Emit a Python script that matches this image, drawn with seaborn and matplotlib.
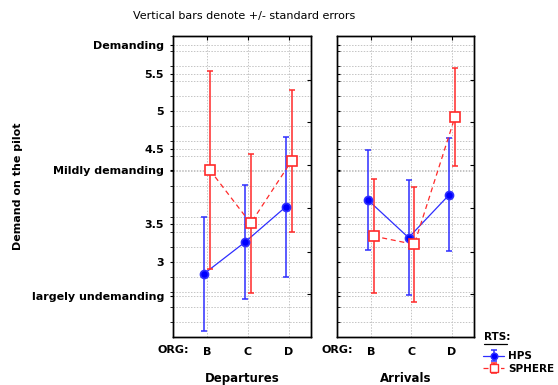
import numpy as np
import pandas as pd
import matplotlib
matplotlib.use("Agg")
import matplotlib.pyplot as plt
from matplotlib.lines import Line2D
import seaborn as sns

# values (means and standard errors)
orgs = ["B", "C", "D"]
panels = ["Departures", "Arrivals"]
rts = ["HPS", "SPHERE"]

dep_hps_mean = [2.84, 3.26, 3.73]
dep_hps_se = [0.76, 0.76, 0.93]
dep_sphere_mean = [4.22, 3.51, 4.34]
dep_sphere_se = [1.32, 0.92, 0.94]
arr_hps_mean = [3.82, 3.32, 3.89]
arr_hps_se = [0.66, 0.76, 0.75]
arr_sphere_mean = [3.34, 3.23, 4.92]
arr_sphere_se = [0.76, 0.76, 0.65]

num_ticks = [3, 3.5, 4.5, 5, 5.5]
word_ticks = [2.55, 4.22, 5.88]
word_labels = ["largely undemanding", "Mildly demanding", "Demanding"]
right_ticks = [2.57, 3.13, 3.71, 4.29, 4.86, 5.42]

rows = []
series = {
    ("Departures", "HPS"): (dep_hps_mean, dep_hps_se),
    ("Departures", "SPHERE"): (dep_sphere_mean, dep_sphere_se),
    ("Arrivals", "HPS"): (arr_hps_mean, arr_hps_se),
    ("Arrivals", "SPHERE"): (arr_sphere_mean, arr_sphere_se),
}
for (panel, r), (m, s) in series.items():
    for i, org in enumerate(orgs):
        rows.append({"panel": panel, "RTS": r, "ORG": org, "pos": i, "mean": m[i], "se": s[i]})
df = pd.DataFrame(rows)

style = {
    "HPS": dict(color="#2e2eff", marker="o", mfc="#0000ff", ms=5.8, ls="-", dx=-0.07),
    "SPHERE": dict(color="#ff2a2a", marker="s", mfc="white", ms=7, ls=(0, (4, 3)), dx=0.07),
}

sns.set_style("white")
plt.rcParams["font.family"] = ["DejaVu Sans"]
plt.rcParams["font.size"] = 8
plt.rcParams["font.weight"] = "bold"
for k in ["text.color", "axes.labelcolor", "xtick.color", "ytick.color"]:
    plt.rcParams[k] = "black"

fig = plt.figure(figsize=(5.58, 3.85), dpi=100)
ax_l = fig.add_axes([0.310, 0.1247, 0.247, 0.782])
ax_r = fig.add_axes([0.604, 0.1247, 0.2455, 0.782])

handles = {}
for ax, panel in zip([ax_l, ax_r], panels):
    sub = df[df["panel"] == panel].copy()
    for r in rts:
        st = style[r]
        d = sub[sub["RTS"] == r].copy()
        d["x"] = d["pos"] + st["dx"]
        sns.lineplot(data=d, x="x", y="mean", ax=ax, color=st["color"],
                     linestyle=st["ls"], linewidth=0.9, legend=False)
        eb = ax.errorbar(d["x"], d["mean"], yerr=d["se"], fmt="none",
                         ecolor=st["color"], elinewidth=1.1, capsize=2.5, capthick=1.1)
        ax.plot(d["x"], d["mean"], linestyle="none", marker=st["marker"],
                markersize=st["ms"], markerfacecolor=st["mfc"],
                markeredgecolor=st["color"], markeredgewidth=1.2, zorder=5)
        handles[r] = eb

    ax.set_xlim(-0.83, 2.54)
    ax.set_ylim(2, 6)
    ax.set_xticks(range(len(orgs)))
    ax.set_xticklabels(orgs)
    ax.set_yticks(num_ticks + word_ticks)
    ax.set_yticks(np.arange(2.2, 5.9, 0.2), minor=True)
    ax.grid(True, which="both", axis="y", linestyle=(0, (1.5, 1.5)), color="#c4c4c4", linewidth=0.7)
    ax.grid(True, which="major", axis="x", linestyle=(0, (1.5, 1.5)), color="#c4c4c4", linewidth=0.7)
    ax.set_axisbelow(True)
    for sp in ax.spines.values():
        sp.set_color("black")
        sp.set_linewidth(1.0)
    ax.tick_params(axis="x", which="major", direction="in", length=3, top=True, pad=7, labelsize=8)
    ax.set_xlabel(panel, fontsize=8.5, fontweight="bold", labelpad=11)
    ax.set_ylabel("")
    ax.text(0, -0.025, "ORG:", transform=ax.transAxes, ha="center", va="top", fontsize=8)

    tw = ax.twinx()
    tw.set_ylim(2, 6)
    tw.set_yticks(right_ticks)
    tw.tick_params(axis="y", direction="in", length=3, right=True, labelright=False)
    tw.grid(False)
    for sp in tw.spines.values():
        sp.set_color("black")
        sp.set_linewidth(1.0)

ax_l.set_yticklabels([str(t) for t in num_ticks] + word_labels)
ax_l.tick_params(axis="y", which="both", direction="out", length=2.5, pad=4, labelsize=8)
ax_r.tick_params(axis="y", which="both", direction="in", length=2.5, labelleft=False)

fig.text(0.032, 0.516, "Demand on the pilot", rotation=90, ha="center", va="center",
         fontsize=8, fontweight="bold")
fig.text(0.437, 0.958, "Vertical bars denote +/- standard errors", ha="center", va="center",
         fontsize=8, fontweight="normal")

# legend
fig.text(0.867, 0.125, "RTS:", ha="left", va="center", fontsize=7.5)
fig.add_artist(Line2D([0.867, 0.909], [0.106, 0.106], color="black", linewidth=0.9))
leg_handles = [(Line2D([], [], color=style[r]["color"], linestyle=style[r]["ls"], linewidth=0.9),
                handles[r],
                Line2D([], [], linestyle="none", marker=style[r]["marker"], markersize=style[r]["ms"] - 1,
                       markerfacecolor=style[r]["mfc"], markeredgecolor=style[r]["color"]))
               for r in rts]
fig.legend(leg_handles, rts, loc="upper left", bbox_to_anchor=(0.855, 0.104), frameon=False,
           handlelength=2.0, handletextpad=0.4, labelspacing=0.25, borderpad=0.1, fontsize=7.5)

fig.savefig("out.png", dpi=100)
